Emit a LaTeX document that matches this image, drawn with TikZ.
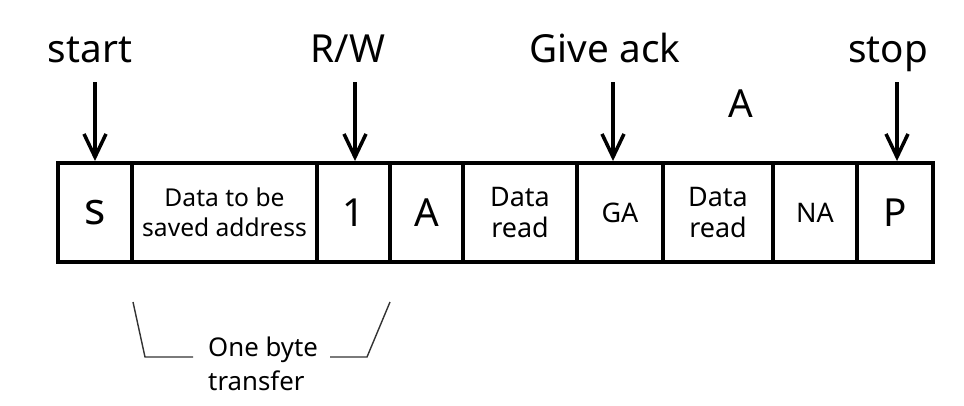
\documentclass[tikz,border=0pt]{standalone}
\usepackage{fontspec}
\setmainfont{Noto Sans}
\usetikzlibrary{arrows.meta}

\tikzset{
  cell/.style={draw, line width=3.4pt, minimum height=99*0.3mm, inner sep=0pt, align=center},
  big/.style={font=\fontsize{33}{38}\selectfont},
  mid/.style={font=\fontsize{23}{27}\selectfont},
  small/.style={font=\fontsize{21}{25.5}\selectfont},
  marker/.style={-{Straight Barb[length=6.9mm,width=6.6mm]}, line width=3pt},
}

\begin{document}
\begin{tikzpicture}[x=0.3mm,y=-0.3mm]
            \useasboundingbox (0,0) rectangle (964,405);

            % the frame
            \node[cell,font=\fontsize{38}{44}\selectfont,minimum width=74*0.3mm] (s) at (95,212.5) {s};
            \node[cell,small,minimum width=185*0.3mm] (addr) at (224.5,212.5) {Data to be\\saved address};
            \node[cell,big,minimum width=73*0.3mm] (rw) at (353.5,212.5) {1};
            \node[cell,big,minimum width=73*0.3mm] (ack) at (426.5,212.5) {A};
            \node[cell,mid,minimum width=114*0.3mm] (rd1) at (520,212.5) {Data\\read};
            \node[cell,mid,minimum width=86*0.3mm] (ga) at (620,212.5) {GA};
            \node[cell,mid,minimum width=110*0.3mm] (rd2) at (718,212.5) {Data\\read};
            \node[cell,mid,minimum width=84*0.3mm] (na) at (815,212.5) {NA};
            \node[cell,big,minimum width=76*0.3mm] (p) at (895,212.5) {P};

            % labels on top
            \node[big,anchor=base] (start) at (90,62) {start};
            \node[big,anchor=base] (rwlbl) at (348,62) {R/W};
            \node[big,anchor=base] (give) at (605,62) {Give ack};
            \node[big,anchor=base] (stop) at (888,62) {stop};
            \node[big,anchor=base] (alone) at (741,117) {A};

            \coordinate (t1) at (95,82);
            \coordinate (t2) at (355,82);
            \coordinate (t3) at (613,82);
            \coordinate (t4) at (897,82);

            \draw[marker] (t1)--(t1 |- s.north);
            \draw[marker] (t2)--(t2 |- rw.north);
            \draw[marker] (t3)--(t3 |- ga.north);
            \draw[marker] (t4)--(t4 |- p.north);

            % one byte bracket
            \coordinate (a) at (133,302);
            \coordinate (b) at (145,357);
            \coordinate (c) at (193,357);
            \coordinate (d) at (330,357);
            \coordinate (e) at (367,357);
            \coordinate (f) at (390,302);

            \draw[line width=1.2pt,black!80] (a)--(b)--(c);
            \draw[line width=1.2pt,black!80] (d)--(e)--(f);

            \node[font=\fontsize{22}{29.5}\selectfont,align=left,anchor=west,inner sep=0pt] (note) at (208,364) {One byte\\transfer};
        \end{tikzpicture}
\end{document}
